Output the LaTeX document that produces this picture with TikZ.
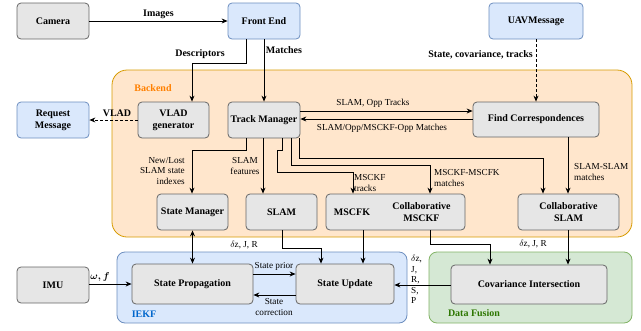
\documentclass[tikz,border=0pt]{standalone}
\usepackage{fontspec}
\setmainfont{Liberation Serif}
\usetikzlibrary{arrows.meta}

\definecolor{grayfill}{HTML}{E6E6E6}
\definecolor{graydraw}{HTML}{666666}
\definecolor{bluefill}{HTML}{DAE8FC}
\definecolor{bluedraw}{HTML}{6C8EBF}
\definecolor{orangefill}{HTML}{FFE6CC}
\definecolor{orangedraw}{HTML}{D79B00}
\definecolor{greenfill}{HTML}{D5E8D4}
\definecolor{greendraw}{HTML}{82B366}

\tikzset{
  box/.style={draw=graydraw, fill=grayfill, rounded corners=4pt, line width=0.8pt,
    minimum width=72pt, minimum height=36pt, align=center, inner sep=1pt, font=\bfseries},
  bluebox/.style={box, draw=bluedraw, fill=bluefill},
  arr/.style={-{Stealth[length=6pt,width=5pt]}, line width=0.8pt},
  lbl/.style={inner sep=1pt, align=center},
}

\begin{document}
\begin{tikzpicture}[x=1pt, y=-1pt, font=\fontsize{9.2}{10.6}\selectfont]
\useasboundingbox (0,0) rectangle (641,330);

% containers
\draw[draw=orangedraw, fill=orangefill, rounded corners=15pt, line width=0.8pt] (112,70) rectangle (632,237);
\draw[draw=bluedraw, fill=bluefill, rounded corners=8pt, line width=0.8pt] (117,252) rectangle (407,323);
\draw[draw=greendraw, fill=greenfill, rounded corners=8pt, line width=0.8pt] (429,252) rectangle (632,323);
\node[lbl, font=\bfseries, text=orange] (backend) at (153,88) {Backend};
\node[lbl, font=\bfseries, text={rgb,255:red,0;green,102;blue,204}] (iekf) at (144,314) {IEKF};
\node[lbl, font=\bfseries, text={rgb,255:red,45;green,118;blue,0}] (fusion) at (474,313) {Data Fusion};

% top row
\node[box] (cam) at (53,21) {Camera};
\node[bluebox] (fe) at (264,21) {Front End};
\node[bluebox, minimum width=94pt] (uav) at (536,21) {UAVMessage};

% backend
\node[bluebox] (req) at (53,120) {Request\\Message};
\node[box, minimum width=71pt] (vlad) at (173.5,120) {VLAD\\generator};
\node[box] (tm) at (264,120) {Track Manager};
\node[box, minimum width=126pt, minimum height=35pt] (fc) at (536,119.5) {Find Correspondences};
\node[box, minimum width=71pt] (sm) at (192.5,212) {State Manager};
\node[box, minimum width=71pt] (slam) at (281.5,212) {SLAM};
\node[box, minimum width=139pt] (msckf) at (395.5,212) {};
\node[lbl, font=\bfseries] (msckfa) at (352,212) {MSCFK};
\node[lbl, font=\bfseries] (msckfb) at (421.5,212) {Collaborative\\MSCKF};
\node[box, minimum width=101pt] (cslam) at (568.5,212) {Collaborative\\SLAM};

% bottom row
\node[box] (imu) at (53,285) {IMU};
\node[box, minimum width=121pt, minimum height=40pt] (sp) at (192.5,284) {State Propagation};
\node[box, minimum width=98pt, minimum height=40pt] (su) at (345,284) {State Update};
\node[box, minimum width=156pt, minimum height=39pt] (ci) at (529,284.5) {Covariance Intersection};

% connectors
\draw[arr] (cam) -- node[above, lbl, font=\bfseries, yshift=1pt] {Images} (fe);
\draw[arr] (fe.south -| 246,0) |- (192,63) -- (vlad.north -| 192,0);
\node[lbl, font=\bfseries] (desc) at (200,54) {Descriptors};
\draw[arr] (fe) -- (tm);
\node[lbl, font=\bfseries] (match) at (284,50) {Matches};
\draw[arr, densely dashed] (uav) -- (fc);
\node[lbl, font=\bfseries, anchor=east] (uavlbl) at (534,55) {State, covariance, tracks};
\draw[arr, densely dashed] (vlad) -- (req);
\node[lbl, font=\bfseries] (vladlbl) at (117,113) {VLAD};

\draw[arr] (tm.east |- 0,111) -- (fc.west |- 0,111);
\node[lbl] (opptr) at (373,103) {SLAM, Opp Tracks};
\draw[arr] (fc.west |- 0,119) -- (tm.east |- 0,119);
\node[lbl] (oppma) at (382,128) {SLAM/Opp/MSCKF-Opp Matches};

\draw[arr] (tm.south -| 246,0) |- (192,150) -- (sm.north -| 192,0);
\node[lbl, align=right, anchor=east] (newlost) at (186,171) {New/Lost\\SLAM state\\indexes};
\draw[arr] (tm.south -| 263,0) -- (slam.north -| 263,0);
\node[lbl] (slamft) at (245,166) {SLAM\\features};
\draw[arr] (tm.south -| 282,0) |- (277,150) |- (353,172) -- (msckf.north -| 353,0);
\node[lbl, align=left, anchor=west] (msckftr) at (353,183) {MSCKF\\tracks};
\draw[arr] (tm.south -| 291,0) |- (430,165) -- (msckf.north -| 430,0);
\node[lbl, align=left, anchor=west] (msckfma) at (433,178) {MSCKF-MSCFK\\matches};
\draw[arr] (tm.south -| 299,0) |- (543,158) -- (cslam.north -| 543,0);
\draw[arr] (fc.south -| 568,0) -- (cslam.north -| 568,0);
\node[lbl, align=left, anchor=west] (sslam) at (573,172) {SLAM-SLAM\\matches};

\draw[arr] (imu.east |- 0,284) -- (sp.west |- 0,284);
\node[lbl, font=\boldmath] (omega) at (100,277) {$\omega, f$};
\draw[{Stealth[length=6pt,width=5pt]}-{Stealth[length=6pt,width=5pt]}, line width=0.8pt] (sm) -- (sp);
\draw[arr] (sp.east |- 0,274) -- (su.west |- 0,274);
\node[lbl] (prior) at (274,266) {State prior};
\draw[arr] (su.west |- 0,295) -- (sp.east |- 0,295);
\node[lbl] (corr) at (274,307) {State\\correction};
\draw[arr] (slam.south -| 282,0) |- (321,248) -- (su.north -| 321,0);
\node[lbl] (dzslam) at (244,245) {$\delta$z, J, R};
\draw[arr] (msckf.south -| 363,0) -- (su.north -| 363,0);
\draw[arr] (msckf.south -| 430,0) |- (490,244) -- (ci.north -| 490,0);
\draw[arr] (cslam.south -| 568,0) -- (ci.north -| 568,0);
\node[lbl] (dzcslam) at (533,244) {$\delta$z, J, R};
\draw[arr] (ci.west |- 0,285) -- (su.east |- 0,285);
\node[lbl, align=left, anchor=north west] (dzci) at (410,254) {$\delta$z,\\J,\\R,\\S,\\P};

\end{tikzpicture}
\end{document}
